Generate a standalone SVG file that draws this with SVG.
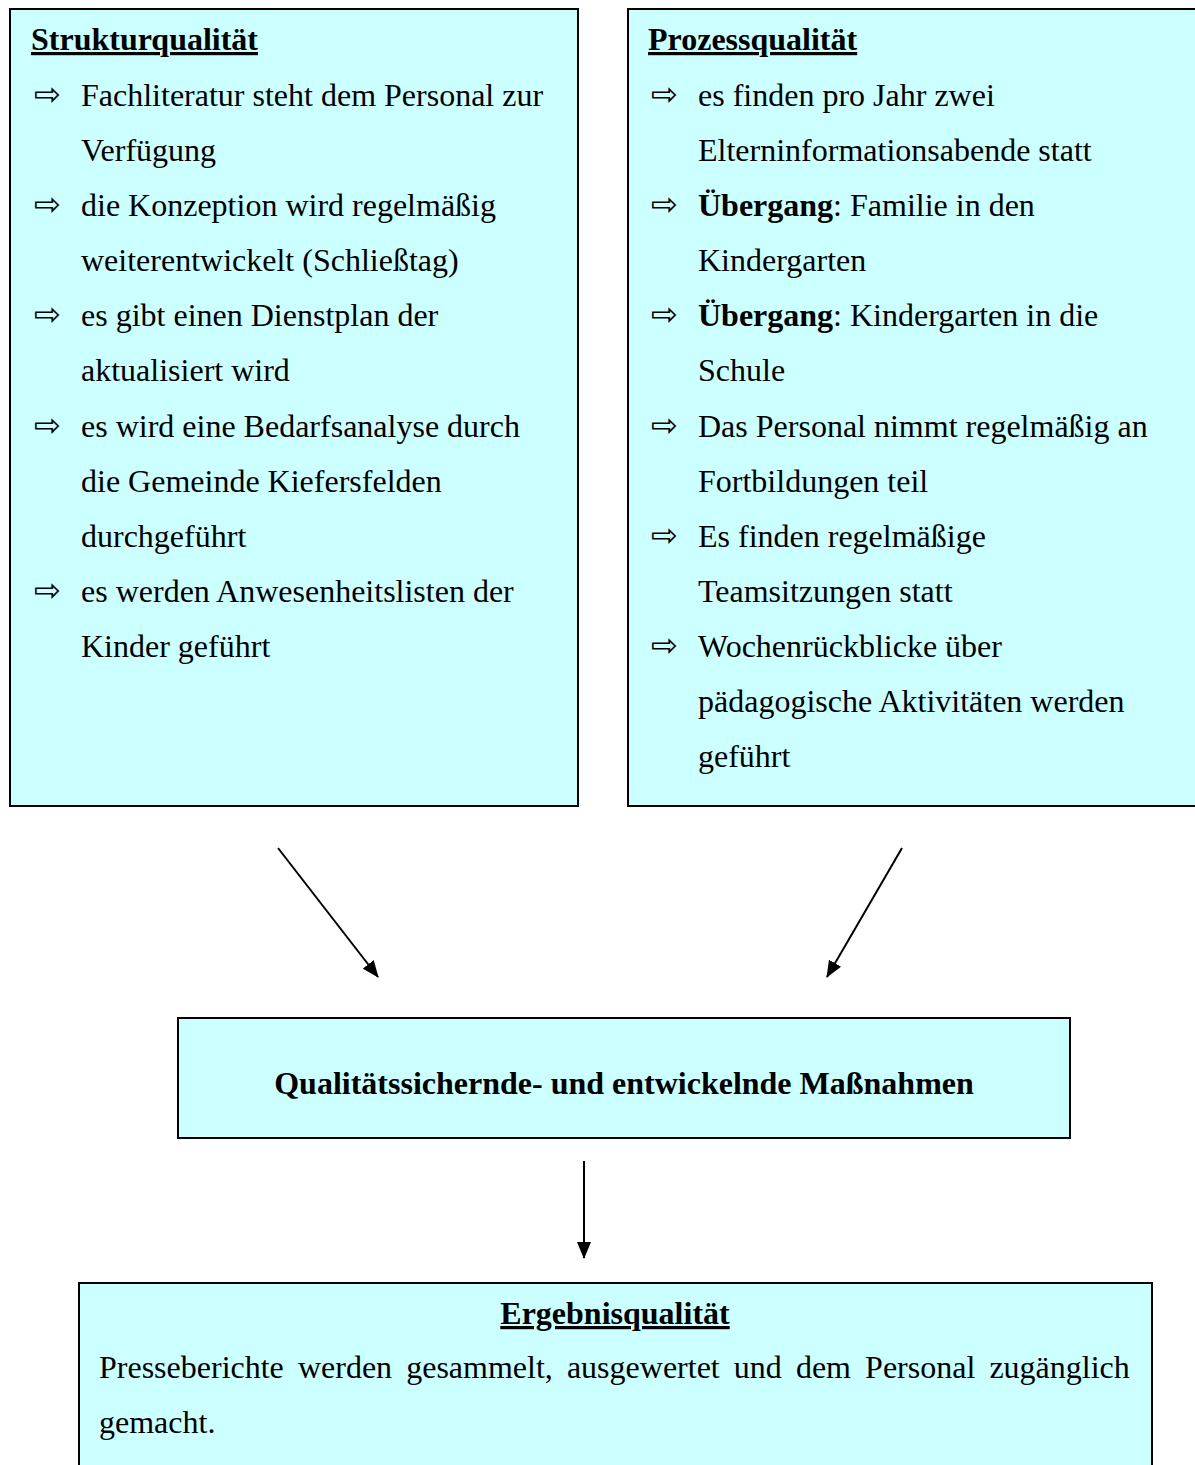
<svg xmlns="http://www.w3.org/2000/svg" width="1195" height="1465" viewBox="0 0 1195 1465">
<style>
.box{fill:#CCFFFF;stroke:#000;stroke-width:2}
.t{font-family:"Liberation Serif","Times New Roman",serif;font-size:32px;fill:#000}
.b{font-weight:bold}
.u{text-decoration:underline}
.bul{font-family:"DejaVu Sans",sans-serif;font-size:32px;fill:#000}
.c{stroke:#000;stroke-width:2;fill:none;marker-end:url(#ah)}
</style>
<defs>
<marker id="ah" markerWidth="17" markerHeight="14" refX="16" refY="7" orient="auto" markerUnits="userSpaceOnUse">
<path d="M0,0 L17,7 L0,14 Z" fill="#000"/>
</marker>
</defs>
<rect width="1195" height="1465" fill="#fff"/>
<g id="struktur">
<rect class="box" x="10" y="9" width="568" height="797"/>
<text class="t b u" x="31" y="50">Strukturqualität</text>
<g class="bul">
<text x="34" y="105">⇨</text>
<text x="34" y="215">⇨</text>
<text x="34" y="325">⇨</text>
<text x="34" y="436">⇨</text>
<text x="34" y="601">⇨</text>
</g>
<g class="t">
<text x="81" y="106">Fachliteratur steht dem Personal zur</text>
<text x="81" y="161">Verfügung</text>
<text x="81" y="216">die Konzeption wird regelmäßig</text>
<text x="81" y="271">weiterentwickelt (Schließtag)</text>
<text x="81" y="326">es gibt einen Dienstplan der</text>
<text x="81" y="381">aktualisiert wird</text>
<text x="81" y="437">es wird eine Bedarfsanalyse durch</text>
<text x="81" y="492">die Gemeinde Kiefersfelden</text>
<text x="81" y="547">durchgeführt</text>
<text x="81" y="602">es werden Anwesenheitslisten der</text>
<text x="81" y="657">Kinder geführt</text>
</g>
</g>
<g id="prozess">
<rect class="box" x="628" y="9" width="600" height="797"/>
<text class="t b u" x="648" y="50">Prozessqualität</text>
<g class="bul">
<text x="651" y="105">⇨</text>
<text x="651" y="215">⇨</text>
<text x="651" y="325">⇨</text>
<text x="651" y="436">⇨</text>
<text x="651" y="546">⇨</text>
<text x="651" y="656">⇨</text>
</g>
<g class="t">
<text x="698" y="106">es finden pro Jahr zwei</text>
<text x="698" y="161">Elterninformationsabende statt</text>
<text x="698" y="216"><tspan font-weight="bold">Übergang</tspan>: Familie in den</text>
<text x="698" y="271">Kindergarten</text>
<text x="698" y="326"><tspan font-weight="bold">Übergang</tspan>: Kindergarten in die</text>
<text x="698" y="381">Schule</text>
<text x="698" y="437">Das Personal nimmt regelmäßig an</text>
<text x="698" y="492">Fortbildungen teil</text>
<text x="698" y="547">Es finden regelmäßige</text>
<text x="698" y="602">Teamsitzungen statt</text>
<text x="698" y="657">Wochenrückblicke über</text>
<text x="698" y="712">pädagogische Aktivitäten werden</text>
<text x="698" y="767">geführt</text>
</g>
</g>
<g id="massnahmen">
<rect class="box" x="178" y="1018" width="892" height="120"/>
<text class="t b" x="624" y="1094" text-anchor="middle">Qualitätssichernde- und entwickelnde Maßnahmen</text>
</g>
<g id="ergebnis">
<rect class="box" x="79" y="1283" width="1073" height="200"/>
<text class="t b u" x="615" y="1324" text-anchor="middle">Ergebnisqualität</text>
<text class="t" x="99" y="1378" word-spacing="6.1">Presseberichte werden gesammelt, ausgewertet und dem Personal zugänglich</text>
<text class="t" x="99" y="1433">gemacht.</text>
</g>
<g id="connectors">
<line class="c" x1="278" y1="848" x2="378" y2="977"/>
<line class="c" x1="902" y1="848" x2="827" y2="977"/>
<line class="c" x1="584" y1="1161" x2="584" y2="1258"/>
</g>
</svg>
